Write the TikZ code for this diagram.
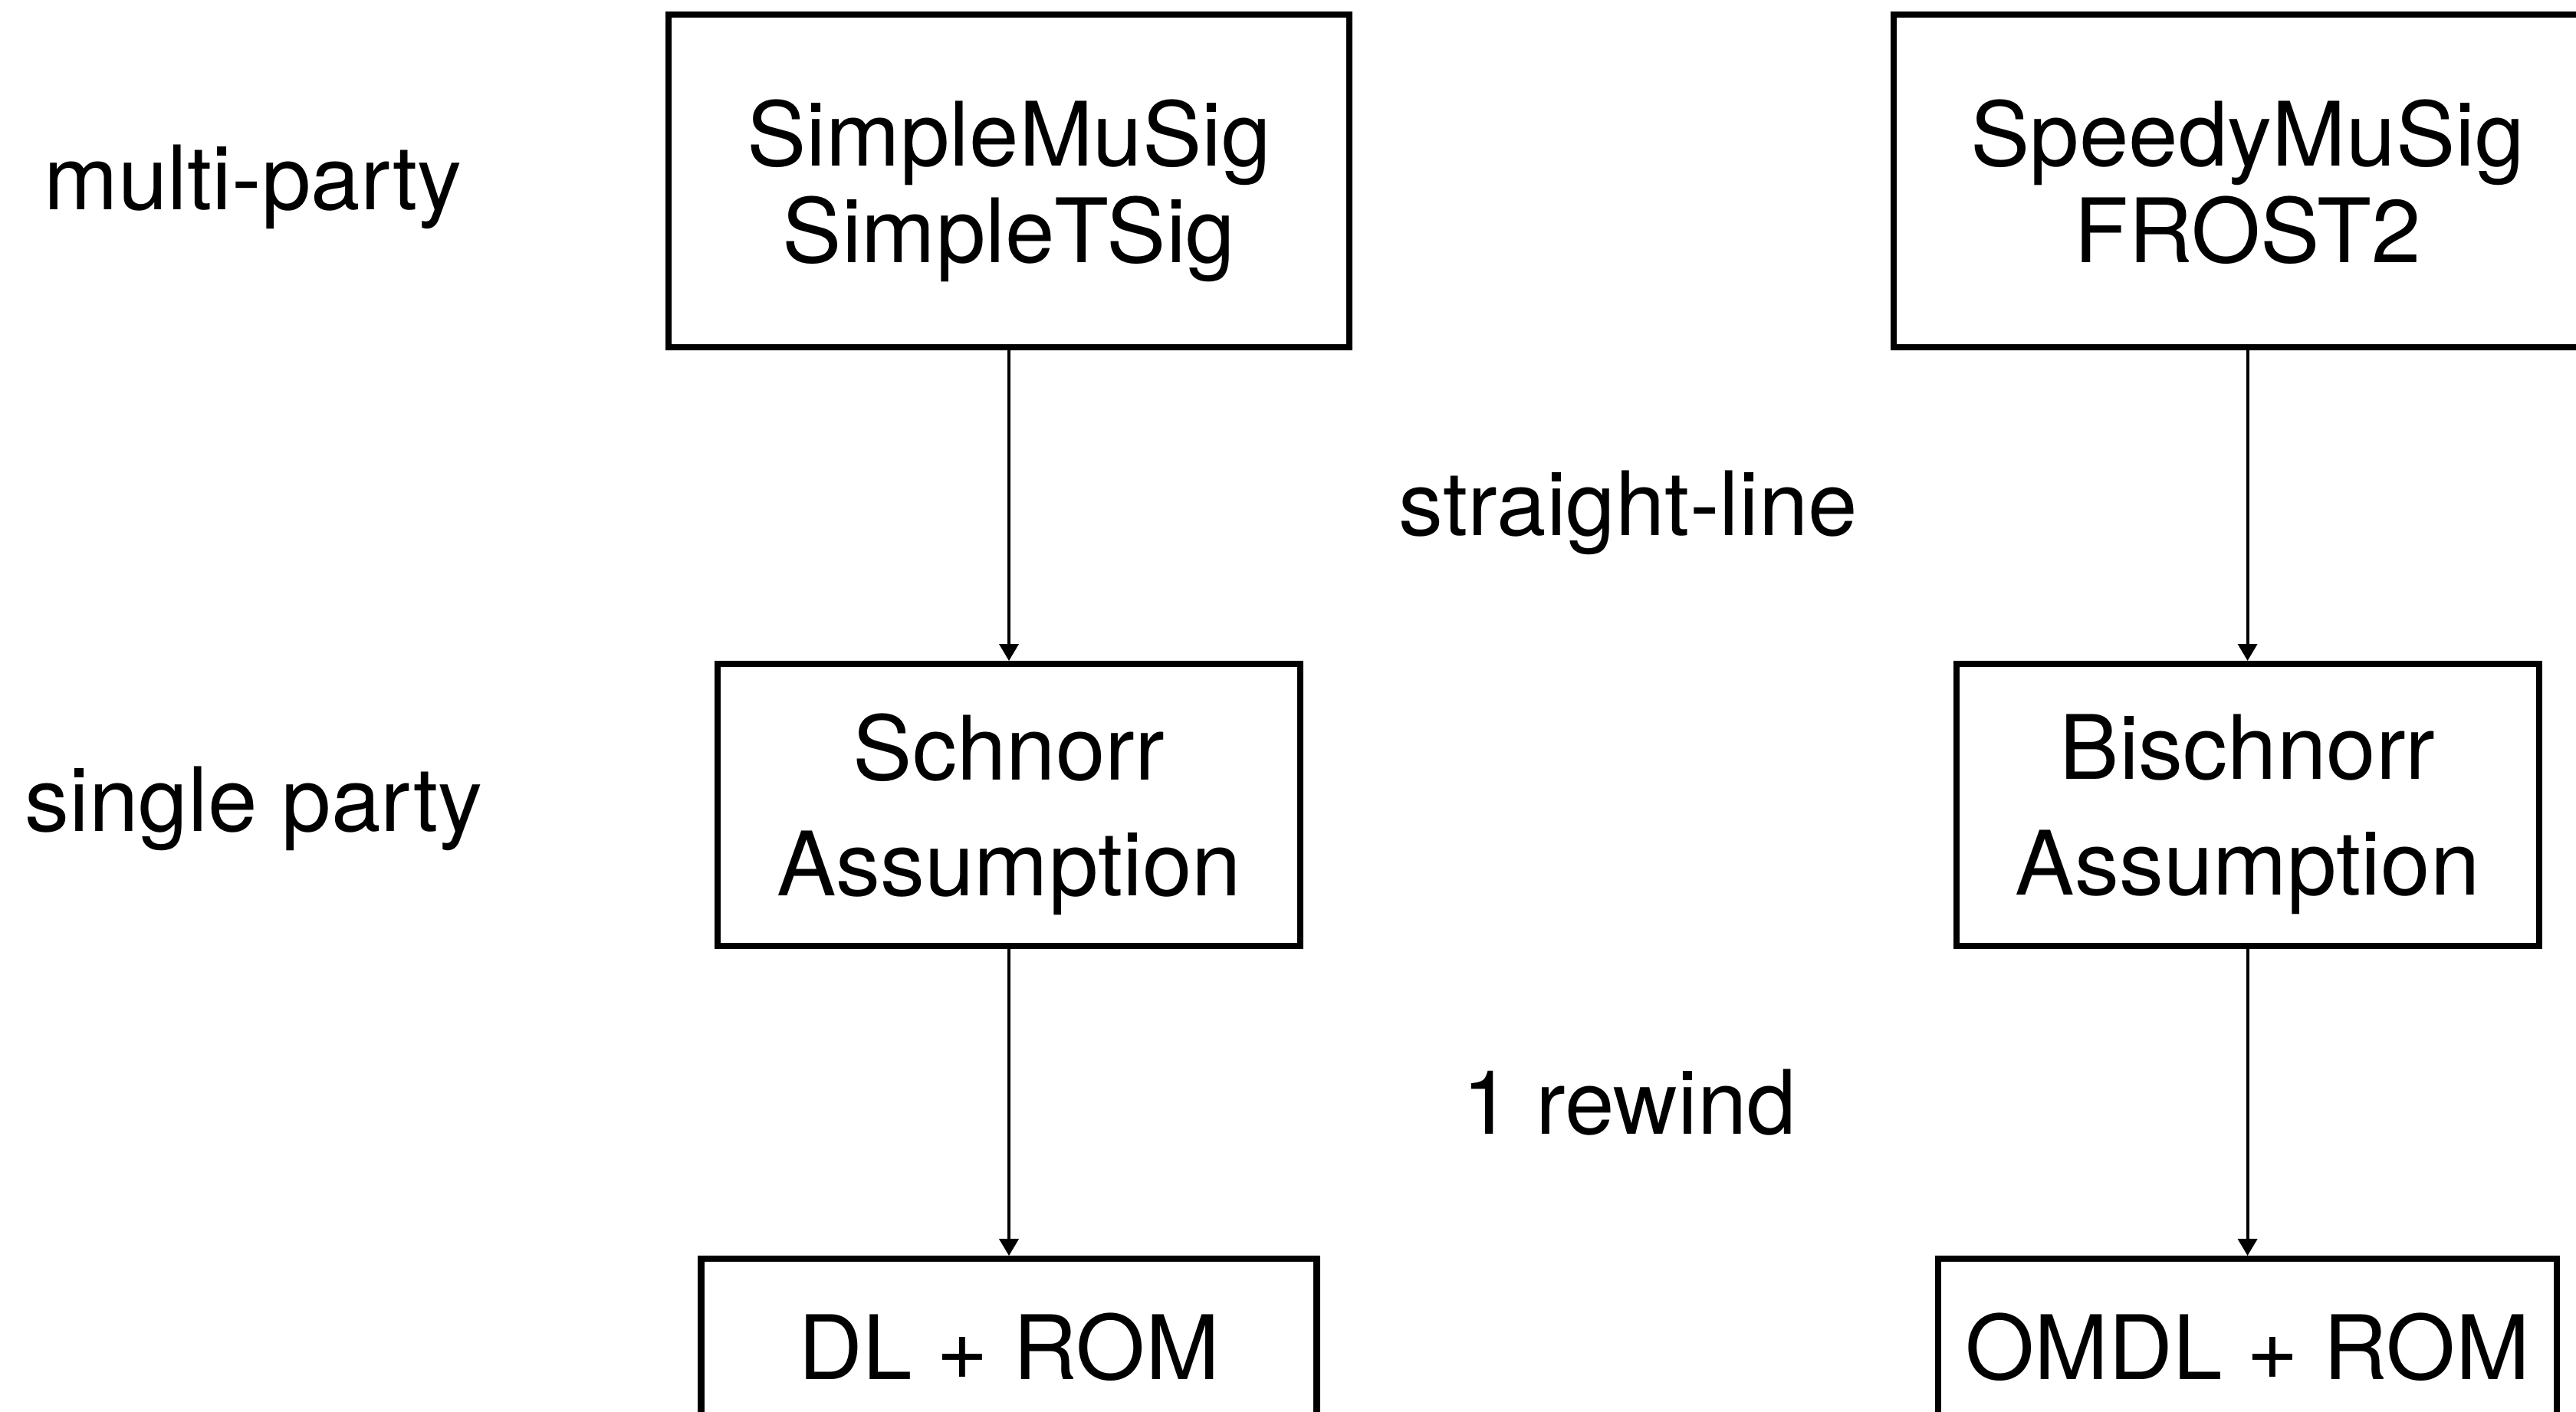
\documentclass[tikz,border=0pt]{standalone}
\usepackage{fontspec}
\setmainfont{TeX Gyre Heros}
\usepackage{tikz}
\usetikzlibrary{arrows.meta, positioning}
\tikzstyle{scheme} = [rectangle, minimum width=8.88cm, minimum height=4.34cm, text depth=0pt, align=center, draw=black, line width=2.3pt, font=\fontsize{33}{36}\selectfont]
\tikzstyle{assume} = [rectangle, minimum width=7.6cm, minimum height=3.68cm, text depth=0pt, align=center, draw=black, line width=2.3pt, font=\fontsize{33}{43}\selectfont]
\tikzstyle{hard} = [rectangle, minimum width=8.03cm, minimum height=2.28cm, text depth=0pt, align=center, draw=black, line width=2.3pt, font=\fontsize{33}{36}\selectfont]
\tikzstyle{tag} = [font=\fontsize{33}{36}\selectfont]
\tikzstyle{arrow} = [line width=1.1pt, -{Triangle[width=0.25cm, length=0.22cm]}]

\begin{document}
\begin{tikzpicture}
            \useasboundingbox (0,0) rectangle (33.6,-18.42);
            \node (simple) [scheme] at (13.16,-2.36) {SimpleMuSig\\SimpleTSig};
            \node (speedy) [scheme, minimum width=9.23cm, right=7.02cm of simple] {SpeedyMuSig\\FROST2};
            \node (schnorr) [assume, below=4.05cm of simple] {Schnorr\\Assumption};
            \node (bischnorr) [assume, below=4.05cm of speedy] {Bischnorr\\Assumption};
            \node (dl) [hard, below=4.0cm of schnorr] {DL + ROM};
            \node (omdl) [hard, minimum width=8.07cm, below=4.0cm of bischnorr] {OMDL + ROM};

            \node (multi) [tag] at (3.30,-2.44) {multi-party};
            \node (single) [tag] at (3.31,-10.55) {single party};
            \node (straight) [tag] at (21.24,-6.69) {straight-line};
            \node (rewind) [tag] at (21.25,-14.38) {1 rewind};

            \draw [arrow] (simple) -- (schnorr);
            \draw [arrow] (schnorr) -- (dl);
            \draw [arrow] (speedy) -- (bischnorr);
            \draw [arrow] (bischnorr) -- (omdl);
        \end{tikzpicture}
\end{document}
